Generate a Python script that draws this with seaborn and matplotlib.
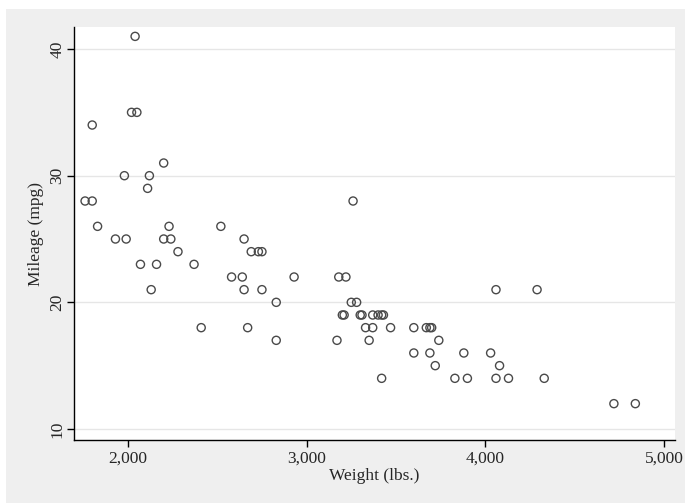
import numpy as np
import pandas as pd
import matplotlib
matplotlib.use("Agg")
import matplotlib.pyplot as plt
import seaborn as sns
from matplotlib.patches import Rectangle
from matplotlib.ticker import FuncFormatter

## auto data: weight (lbs.) and mileage (mpg)
weight = [2930, 3350, 2640, 3250, 4080, 3670, 2230, 3280, 3880, 3400,
          4330, 3900, 4290, 2110, 3690, 3180, 3220, 2750, 3430, 2120,
          3600, 3600, 3740, 1800, 2650, 4840, 4720, 3830, 2580, 4060,
          3720, 3370, 4130, 2830, 4060, 3310, 3300, 3690, 3370, 2730,
          4030, 3260, 1800, 2200, 2520, 3330, 3700, 3470, 3210, 3200,
          3420, 2690, 2830, 2070, 2650, 2370, 2020, 2280, 2750, 2130,
          2240, 1760, 1980, 3420, 1830, 2050, 2410, 2200, 2670, 2160,
          2040, 1930, 1990, 3170]
mpg = [22, 17, 22, 20, 15, 18, 26, 20, 16, 19,
       14, 14, 21, 29, 16, 22, 22, 24, 19, 30,
       18, 16, 17, 28, 21, 12, 12, 14, 22, 14,
       15, 18, 14, 20, 21, 19, 19, 18, 19, 24,
       16, 28, 34, 25, 26, 18, 18, 18, 19, 19,
       19, 24, 17, 23, 25, 23, 35, 24, 21, 21,
       25, 28, 30, 14, 26, 35, 18, 31, 18, 23,
       41, 25, 25, 17]
x_ticks = [2000, 3000, 4000, 5000]
y_ticks = [10, 20, 30, 40]

df = pd.DataFrame({"weight": weight, "mpg": mpg})

sns.set_style("white")
plt.rcParams['font.family'] = ['Liberation Serif', 'DejaVu Serif']

fig = plt.figure(figsize=(6.85, 5.03), dpi=100)
fig.patch.set_facecolor("white")
# light gray graph region
fig.patches.append(Rectangle((6 / 685, 0), 1 - 6 / 685, 1 - 9 / 503,
                             transform=fig.transFigure, facecolor="#efefef",
                             edgecolor="none", zorder=-1))

ax = fig.add_axes([74 / 685, 63 / 503, 601 / 685, 413 / 503])
ax.set_zorder(1)
ax.set_facecolor("white")

sns.scatterplot(data=df, x="weight", y="mpg", ax=ax, marker="o", s=34,
                facecolor="none", edgecolor="#4a4a4a", linewidth=1.0)

ax.set_xlim(1698, 5062)
ax.set_ylim(9.13, 41.74)
ax.set_xticks(x_ticks)
ax.set_yticks(y_ticks)
ax.xaxis.set_major_formatter(FuncFormatter(lambda v, p: f"{int(v):,}"))
for t in ax.get_yticklabels():
    t.set_rotation(90)
    t.set_va("center")
ax.tick_params(axis="both", direction="out", length=5, width=1, color="black",
               labelsize=12.5, left=True, bottom=True)
ax.tick_params(axis="x", pad=3)
ax.tick_params(axis="y", pad=1)
ax.yaxis.grid(True, color="#e6e6e6", linewidth=1)
ax.set_axisbelow(True)
for side in ["top", "right"]:
    ax.spines[side].set_visible(False)
for side in ["left", "bottom"]:
    ax.spines[side].set_color("black")
    ax.spines[side].set_linewidth(1)

ax.set_xlabel("Weight (lbs.)", fontsize=12.5, labelpad=1)
ax.set_ylabel("Mileage (mpg)", fontsize=12.5, labelpad=4)

fig.savefig("out.png", dpi=100, facecolor=fig.get_facecolor())
